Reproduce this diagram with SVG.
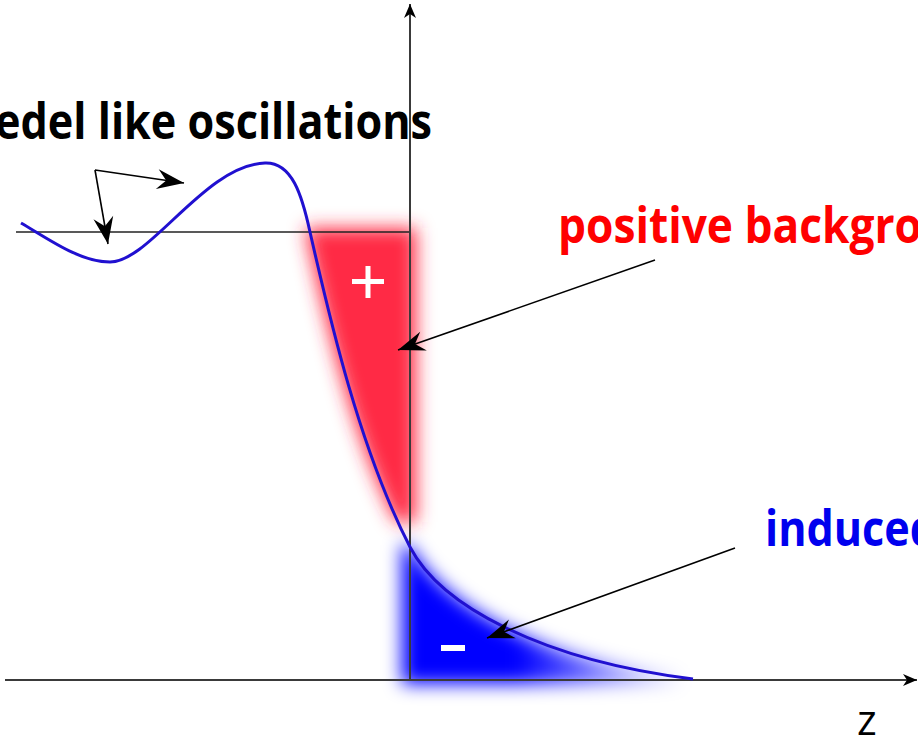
<svg xmlns="http://www.w3.org/2000/svg" width="918" height="737" viewBox="0 0 918 737">
<style>
.lbl{font-family:"Open Sans","Liberation Sans",sans-serif;font-weight:700;font-size:50px}
.axis{stroke:#3a3a3a;stroke-width:2;fill:none}
.ptr{stroke:#000;stroke-width:1.6;fill:none}
</style>
<defs>
<filter id="blur" x="-50%" y="-50%" width="200%" height="200%"><feGaussianBlur stdDeviation="9"/></filter>
<filter id="blur2" x="-50%" y="-50%" width="200%" height="200%"><feGaussianBlur stdDeviation="9"/></filter>
<linearGradient id="bg" x1="400" y1="0" x2="690" y2="0" gradientUnits="userSpaceOnUse">
<stop offset="0" stop-color="#0000ff"/><stop offset="0.4" stop-color="#0000ff"/><stop offset="1" stop-color="#0000ff" stop-opacity="0"/>
</linearGradient>
<marker id="ah" markerWidth="30" markerHeight="24" refX="0" refY="0" viewBox="-28 -12 30 24" orient="auto" markerUnits="userSpaceOnUse">
<path d="M0,0 L-27,-10 L-18,0 L-27,10 Z" fill="#000"/>
</marker>
<marker id="ax" markerWidth="16" markerHeight="14" refX="0" refY="0" viewBox="-15 -7 16 14" orient="auto" markerUnits="userSpaceOnUse">
<path d="M0,0 L-14,-6 L-10,0 L-14,6 Z" fill="#000"/>
</marker>
</defs>
<rect width="918" height="737" fill="#fff"/>
<g id="charge-regions">
<path d="M305,228 C325,320 353,440 396,522 L416,522 L416,228 Z" fill="#ff2a44" filter="url(#blur)"/>
<path d="M410,545 C440,600 530,658 680,676 L680,684 L402,684 L402,545 Z" fill="url(#bg)" filter="url(#blur2)"/>
</g>
<g id="axes">
<line x1="16" y1="232" x2="410" y2="232" stroke="#222" stroke-width="1.6"/>
<line class="axis" x1="410" y1="681" x2="410" y2="4" marker-end="url(#ax)"/>
<line class="axis" x1="5" y1="680" x2="917" y2="680" marker-end="url(#ax)"/>
</g>
<g id="curve">
<path d="M21,223 C50,240 80,262 110,262 C150,262 205,165 265,163 C292,162 302,195 310,232 C330,320 360,450 410,547 C440,605 540,660 693,679" fill="none" stroke="#2010d0" stroke-width="3"/>
</g>
<g id="signs">
<rect x="352" y="279" width="32" height="5" fill="#fff"/>
<rect x="365.5" y="266" width="5" height="32" fill="#fff"/>
<rect x="441" y="645" width="24" height="6" fill="#fff"/>
</g>
<g id="connectors">
<line class="ptr" x1="95" y1="170" x2="184" y2="183" marker-end="url(#ah)"/>
<line class="ptr" x1="95" y1="170" x2="108" y2="244" marker-end="url(#ah)"/>
<line class="ptr" x1="655" y1="260" x2="398" y2="350" marker-end="url(#ah)"/>
<line class="ptr" x1="735" y1="548" x2="487" y2="638" marker-end="url(#ah)"/>
</g>
<g id="labels">
<text class="lbl" x="-5" y="139" fill="#000" textLength="437" lengthAdjust="spacingAndGlyphs">edel like oscillations</text>
<text class="lbl" x="558" y="243" fill="#ff0000" textLength="364" lengthAdjust="spacingAndGlyphs">positive backgro</text>
<text class="lbl" x="765" y="546" fill="#0000ee" textLength="172" lengthAdjust="spacingAndGlyphs">induced</text>
<text x="857" y="735" font-family="Open Sans, Liberation Sans, sans-serif" font-size="42" fill="#000">z</text>
</g>
</svg>
